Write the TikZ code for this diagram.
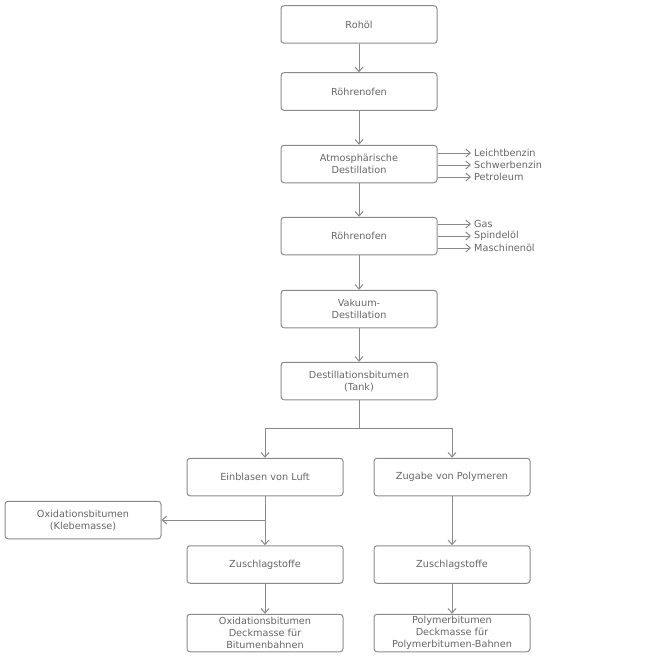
\documentclass[tikz,border=0pt]{standalone}
\usepackage{fontspec}
\setmainfont{DejaVu Sans}
\usetikzlibrary{arrows.meta}
\definecolor{linec}{HTML}{8A8A8A}
\definecolor{textc}{HTML}{666666}
\begin{document}
\begin{tikzpicture}[x=1pt,y=-1pt,
  box/.style={draw=linec,line width=1pt,rounded corners=3pt,minimum width=156pt,minimum height=37.5pt,inner sep=0pt,align=center,text=textc,font=\fontsize{9.7}{12}\selectfont},
  side/.style={anchor=west,inner sep=3pt,text=textc,font=\fontsize{9.7}{12}\selectfont},
  arr/.style={draw=linec,line width=1pt,-{Straight Barb[length=4.5pt,width=8pt]}},
  ln/.style={draw=linec,line width=1pt}]
\useasboundingbox (0,0) rectangle (660,658);
\node[box] (roh) at (359,24.5) {Rohöl};
\node[box] (ro1) at (359,91.5) {Röhrenofen};
\node[box] (atm) at (359,164) {Atmosphärische\\Destillation};
\node[box] (ro2) at (359,236) {Röhrenofen};
\node[box] (vak) at (359,309) {Vakuum-\\Destillation};
\node[box] (dst) at (359,381) {Destillationsbitumen\\(Tank)};
\node[box] (ein) at (265,477) {Einblasen von Luft};
\node[box] (zug) at (452,477) {Zugabe von Polymeren};
\node[box] (oxk) at (83,520) {Oxidationsbitumen\\(Klebemasse)};
\node[box] (zs1) at (265,564.5) {Zuschlagstoffe};
\node[box] (zs2) at (452,564.5) {Zuschlagstoffe};
\node[box] (ob) at (265,633) {Oxidationsbitumen\\Deckmasse für\\Bitumenbahnen};
\node[box] (pb) at (452,633) {Polymerbitumen\\Deckmasse für\\Polymerbitumen-Bahnen};
\node[side] (l1) at (471,153) {Leichtbenzin};
\node[side] (l2) at (471,165) {Schwerbenzin};
\node[side] (l3) at (471,177) {Petroleum};
\node[side] (g1) at (471,224) {Gas};
\node[side] (g2) at (471,236) {Spindelöl};
\node[side] (g3) at (471,248) {Maschinenöl};
\draw[arr] (roh) -- (ro1);
\draw[arr] (ro1) -- (atm);
\draw[arr] (atm) -- (ro2);
\draw[arr] (ro2) -- (vak);
\draw[arr] (vak) -- (dst);
\foreach \t in {l1,l2,l3} \draw[arr] (atm.east |- \t.west) -- (\t.west);
\foreach \t in {g1,g2,g3} \draw[arr] (ro2.east |- \t.west) -- (\t.west);
\coordinate (sp) at (359,428);
\draw[ln] (dst.south) -- (sp);
\draw[arr] (sp) -| (ein.north);
\draw[arr] (sp) -| (zug.north);
\draw[arr] (ein) -- (zs1);
\draw[arr] (ein.south |- oxk.east) -- (oxk.east);
\draw[arr] (zug) -- (zs2);
\draw[arr] (zs1) -- (ob);
\draw[arr] (zs2) -- (pb);
\end{tikzpicture}
\end{document}
